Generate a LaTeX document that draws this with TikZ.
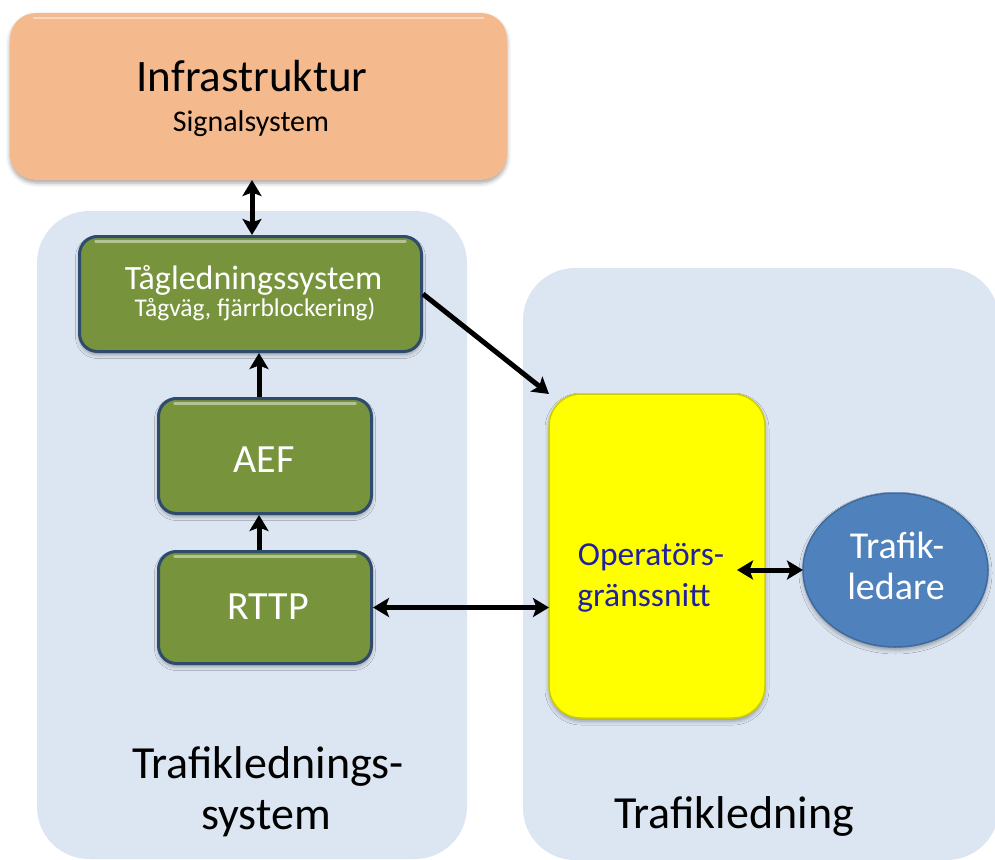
\documentclass[tikz,border=0pt]{standalone}
\usepackage{fontspec}
\setmainfont{Carlito}
\usetikzlibrary{arrows.meta,shadows.blur,shapes.geometric}

\definecolor{panelblue}{HTML}{DCE6F2}
\definecolor{infrafill}{HTML}{F4BA8D}
\definecolor{leafgreen}{HTML}{77933C}
\definecolor{greenedge}{HTML}{2E4A6C}
\definecolor{opyellow}{HTML}{FFFF00}
\definecolor{opedge}{HTML}{CDCD00}
\definecolor{ellblue}{HTML}{4F81BD}
\definecolor{elledge}{HTML}{3E6A9E}
\definecolor{optext}{HTML}{2020A0}

\tikzset{
  panelbox/.style={fill=panelblue, rounded corners=52pt, inner sep=0pt, outer sep=0pt},
  softshadow/.style={blur shadow={shadow xshift=0pt, shadow yshift=-3pt,
      shadow blur radius=4pt, shadow opacity=35}},
  tophighlight/.style={path picture={
      \draw[white, opacity=0.45, line width=2.5pt, line cap=round]
        ([xshift=#1, yshift=-5pt]path picture bounding box.north west) --
        ([xshift=-#1, yshift=-5pt]path picture bounding box.north east);}},
  infrabox/.style={softshadow, rounded corners=26pt, inner sep=0pt, outer sep=0pt,
      fill=infrafill, tophighlight=24pt},
  greenbox/.style={softshadow, rounded corners=18pt, inner sep=0pt, outer sep=1.5pt,
      draw=greenedge, line width=3pt, fill=leafgreen, tophighlight=16pt},
  opbox/.style={softshadow, rounded corners=32pt, inner sep=0pt, outer sep=0pt,
      fill=opyellow, draw=opedge, line width=1.5pt},
  personell/.style={softshadow, ellipse, inner sep=0pt, outer sep=0pt,
      fill=ellblue, draw=elledge, line width=1.5pt},
  lbl/.style={anchor=base, inner sep=0pt},
  tip/.tip={Stealth[length=16pt, width=19pt, inset=3.5pt]},
  conn/.style={line width=5pt, black, arrows={-tip}},
  bothconn/.style={line width=5pt, black, arrows={tip-tip}},
}

\begin{document}
\begin{tikzpicture}[x=1pt, y=-1pt]
\useasboundingbox (0,0) rectangle (995,859);

% background groups
\node[panelbox, minimum width=430, minimum height=648] (syspanel) at (252,535) {};
\node[panelbox, minimum width=476, minimum height=592] (ledpanel) at (761,564) {};

% boxes
\node[infrabox, minimum width=497, minimum height=167] (infra) at (258.5,96.5) {};
\node[greenbox, minimum width=342, minimum height=115] (tag) at (250.5,294) {};
\node[greenbox, minimum width=213, minimum height=115] (aef) at (265,456) {};
\node[greenbox, minimum width=213, minimum height=112] (rttp) at (265,607.5) {};
\node[opbox, minimum width=216, minimum height=324] (op) at (657,556) {};
\node[personell, minimum width=185, minimum height=154] (ledare) at (895.5,570) {};

% labels
\node[lbl, font=\fontsize{45}{52}\selectfont] (infratitle) at (252,92) {Infrastruktur};
\node[lbl, font=\fontsize{30}{36}\selectfont] (infrasub) at (251,131) {Signalsystem};
\node[lbl, white, font=\fontsize{34}{40}\selectfont] (tagtitle) at (253.5,289) {Tågledningssystem};
\node[lbl, white, font=\fontsize{25.5}{30}\selectfont] (tagsub) at (255,316) {Tågväg, fjärrblockering)};
\node[lbl, white, font=\fontsize{40}{46}\selectfont] (aeftext) at (264,472) {AEF};
\node[lbl, white, font=\fontsize{40}{46}\selectfont] (rttptext) at (268,619) {RTTP};
\node[lbl, optext, font=\fontsize{33.5}{40}\selectfont] (optop) at (651,565) {Operatörs-};
\node[lbl, optext, font=\fontsize{33.5}{40}\selectfont] (opbottom) at (644,606) {gränssnitt};
\node[lbl, white, font=\fontsize{38}{44}\selectfont] (ledtop) at (897,558) {Trafik-};
\node[lbl, white, font=\fontsize{38}{44}\selectfont] (ledbottom) at (896,599) {ledare};
\node[lbl, font=\fontsize{46}{52}\selectfont] (systop) at (268,778) {Trafiklednings-};
\node[lbl, font=\fontsize{46}{52}\selectfont] (sysbottom) at (266,829) {system};
\node[lbl, font=\fontsize{46}{52}\selectfont] (ledname) at (734,828) {Trafikledning};

% connectors
\draw[bothconn] ([xshift=-6.5pt]infra.south) -- ([xshift=1.5pt]tag.north);
\draw[conn] ([xshift=-6pt]aef.north) -- ([xshift=-6pt]aef.north |- tag.south);
\draw[conn] ([xshift=-6pt]rttp.north) -- ([xshift=-6pt]rttp.north |- aef.south);
\draw[conn] (tag.east) -- (op.north west);
\draw[bothconn] (rttp.east) -- (rttp.east -| op.west);
\coordinate (opinner) at ([xshift=-28pt]op.east |- ledare.west);
\draw[bothconn] (opinner) -- (ledare.west);
\end{tikzpicture}
\end{document}
